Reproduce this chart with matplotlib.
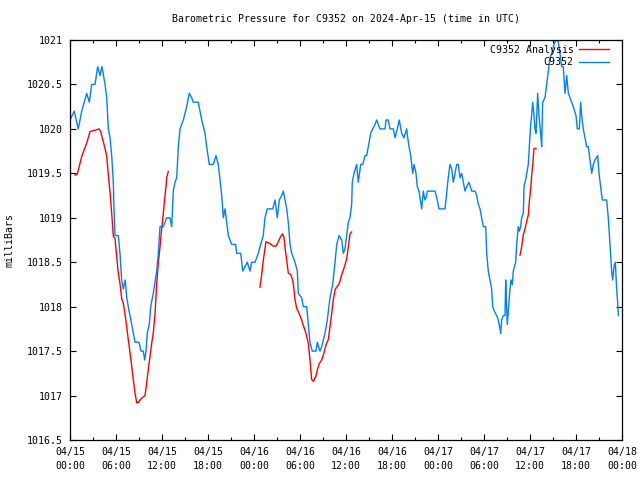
import numpy as np
import matplotlib
matplotlib.use("Agg")
import matplotlib.pyplot as plt
from matplotlib.ticker import MultipleLocator

# ---- data (hours since 2024-04-15 00:00 UTC, pressure in mb) ----
obs_hours = [0.0, 0.56, 1.08, 1.53, 2.18, 2.52, 2.83, 3.26, 3.61, 3.91, 4.17, 4.57, 4.79, 5.0, 5.22,
             5.44, 5.65, 5.74, 5.87, 6.3, 6.52, 6.74, 6.95, 7.21, 7.4, 7.6, 7.83, 8.05, 8.48, 9.0,
             9.26, 9.56, 9.74, 9.91, 10.08, 10.34, 10.53, 10.86, 11.31, 11.52, 11.74, 12.17, 12.61,
             13.04, 13.26, 13.47, 13.7, 13.92, 14.13, 14.35, 14.78, 15.22, 15.56, 15.87, 16.08,
             16.73, 17.18, 17.61, 17.83, 18.17, 18.69, 19.04, 19.34, 19.79, 20.0, 20.22, 20.65,
             21.09, 21.61, 21.74, 22.27, 22.53, 22.83, 23.13, 23.48, 23.7, 24.13, 24.56, 24.87,
             25.21, 25.43, 25.73, 26.44, 26.74, 27.04, 27.3, 27.61, 27.82, 28.04, 28.27, 28.47,
             28.7, 28.92, 29.35, 29.65, 29.78, 30.22, 30.43, 30.87, 31.08, 31.3, 31.6, 32.09,
             32.26, 32.61, 32.83, 33.26, 33.56, 33.91, 34.26, 34.57, 34.79, 35.09, 35.44, 35.65,
             35.87, 36.09, 36.3, 36.52, 36.74, 36.82, 37.04, 37.39, 37.6, 37.92, 38.18, 38.48,
             38.7, 38.91, 39.22, 39.48, 39.78, 40.0, 40.43, 41.09, 41.22, 41.52, 41.74, 42.17,
             42.39, 42.69, 42.95, 43.26, 43.56, 43.92, 44.05, 44.22, 44.44, 44.57, 44.7, 44.87,
             45.13, 45.3, 45.52, 45.69, 45.87, 46.08, 46.3, 46.53, 46.6, 47.61, 47.91, 48.13,
             48.91, 49.04, 49.21, 49.34, 49.56, 49.79, 50.0, 50.22, 50.44, 50.65, 50.87, 51.09,
             51.3, 51.52, 51.74, 52.04, 52.39, 52.83, 53.05, 53.26, 53.48, 53.7, 53.91, 54.22,
             54.35, 54.56, 54.78, 55.0, 55.13, 55.34, 55.65, 55.86, 56.09, 56.17, 56.3, 56.52,
             56.74, 56.83, 56.9, 57.04, 57.26, 57.39, 57.52, 57.69, 57.82, 58.13, 58.26, 58.47,
             58.6, 58.78, 58.91, 59.13, 59.22, 59.48, 59.78, 59.91, 60.09, 60.22, 60.35, 60.52,
             60.65, 60.78, 61.0, 61.17, 61.39, 61.52, 61.65, 61.96, 62.18, 62.39, 62.61, 62.83,
             63.13, 63.39, 63.69, 63.91, 64.13, 64.34, 64.57, 64.79, 65.0, 65.22, 65.44, 65.65,
             66.0, 66.17, 66.43, 66.61, 66.74, 66.95, 67.17, 67.39, 67.6, 67.83, 68.05, 68.26,
             68.48, 68.83, 69.0, 69.22, 69.43, 70.0, 70.21, 70.43, 70.65, 70.78, 70.96, 71.13,
             71.3, 71.43, 71.52]
obs_mb = [1020.1, 1020.2, 1020.0, 1020.2, 1020.4, 1020.3, 1020.5, 1020.5, 1020.7, 1020.6, 1020.7,
          1020.5, 1020.35, 1020.0, 1019.9, 1019.7, 1019.4, 1019.1, 1018.8, 1018.8, 1018.6, 1018.3,
          1018.2, 1018.3, 1018.1, 1018.0, 1017.9, 1017.8, 1017.6, 1017.6, 1017.5, 1017.5, 1017.4,
          1017.5, 1017.7, 1017.8, 1018.0, 1018.15, 1018.4, 1018.6, 1018.9, 1018.9, 1019.0, 1019.0,
          1018.9, 1019.3, 1019.4, 1019.45, 1019.8, 1020.0, 1020.1, 1020.25, 1020.4, 1020.35,
          1020.3, 1020.3, 1020.1, 1019.95, 1019.8, 1019.6, 1019.6, 1019.7, 1019.6, 1019.25,
          1019.0, 1019.1, 1018.8, 1018.7, 1018.7, 1018.6, 1018.6, 1018.4, 1018.45, 1018.5,
          1018.4, 1018.5, 1018.5, 1018.6, 1018.7, 1018.8, 1019.0, 1019.1, 1019.1, 1019.2,
          1019.0, 1019.2, 1019.25, 1019.3, 1019.2, 1019.1, 1018.95, 1018.7, 1018.6, 1018.5,
          1018.4, 1018.15, 1018.1, 1018.0, 1018.0, 1017.8, 1017.6, 1017.5, 1017.5, 1017.6,
          1017.5, 1017.55, 1017.7, 1017.85, 1018.1, 1018.25, 1018.5, 1018.7, 1018.8, 1018.75,
          1018.6, 1018.65, 1018.8, 1018.95, 1019.0, 1019.15, 1019.4, 1019.5, 1019.6, 1019.4,
          1019.6, 1019.6, 1019.7, 1019.7, 1019.8, 1019.95, 1020.0, 1020.05, 1020.1, 1020.0,
          1020.0, 1020.1, 1020.1, 1020.0, 1020.0, 1019.9, 1020.0, 1020.1, 1019.95, 1019.9,
          1020.0, 1019.9, 1019.8, 1019.7, 1019.6, 1019.5, 1019.6, 1019.5, 1019.35, 1019.3,
          1019.2, 1019.1, 1019.3, 1019.2, 1019.25, 1019.3, 1019.3, 1019.2, 1019.1, 1019.1,
          1019.2, 1019.35, 1019.45, 1019.6, 1019.55, 1019.4, 1019.5, 1019.6, 1019.6, 1019.45,
          1019.5, 1019.4, 1019.3, 1019.35, 1019.4, 1019.3, 1019.3, 1019.25, 1019.15, 1019.1,
          1019.0, 1018.9, 1018.9, 1018.6, 1018.4, 1018.3, 1018.2, 1018.0, 1017.95, 1017.9,
          1017.85, 1017.75, 1017.7, 1017.85, 1017.9, 1017.9, 1018.3, 1018.1, 1017.8, 1018.05,
          1018.2, 1018.3, 1018.25, 1018.4, 1018.5, 1018.7, 1018.9, 1018.85, 1018.9, 1019.0,
          1019.05, 1019.35, 1019.45, 1019.6, 1019.8, 1020.05, 1020.15, 1020.3, 1020.15, 1020.0,
          1019.95, 1020.4, 1020.15, 1019.95, 1019.8, 1020.3, 1020.35, 1020.5, 1020.65, 1020.8,
          1020.85, 1020.95, 1021.0, 1020.98, 1020.85, 1020.7, 1020.7, 1020.4, 1020.6, 1020.4,
          1020.35, 1020.3, 1020.25, 1020.15, 1020.0, 1020.0, 1020.3, 1020.15, 1020.0, 1019.9,
          1019.8, 1019.8, 1019.65, 1019.5, 1019.6, 1019.65, 1019.7, 1019.5, 1019.35, 1019.2,
          1019.2, 1019.0, 1018.7, 1018.4, 1018.3, 1018.45, 1018.5, 1018.2, 1018.05, 1017.9]

ana_hours = [0.65, 0.95, 1.21, 1.53, 1.83, 2.18, 2.61, 3.04, 3.48, 3.78, 4.0, 4.27, 4.57, 4.79, 5.0,
             5.22, 5.44, 5.65, 5.87, 6.09, 6.3, 6.52, 6.74, 6.95, 7.17, 7.4, 7.6, 7.83, 8.05, 8.26,
             8.48, 8.7, 8.91, 9.13, 9.48, 9.78, 10.0, 10.21, 10.43, 10.66, 10.86, 11.09, 11.31,
             11.52, 11.74, 11.96, 12.17, 12.39, 12.52, 12.61, 12.82,
             np.nan,
             24.78, 25.0, 25.21, 25.56, 26.09, 26.52, 26.87, 27.17, 27.48, 27.74, 27.91, 28.04,
             28.27, 28.47, 28.79, 29.05, 29.22, 29.35, 29.57, 29.91, 30.22, 30.43, 30.78, 31.08,
             31.3, 31.52, 31.74, 32.09, 32.26, 32.52, 32.83, 33.13, 33.39, 33.69, 33.91, 34.13,
             34.35, 34.57, 34.79, 35.13, 35.44, 35.65, 35.87, 36.09, 36.3, 36.52, 36.74,
             np.nan,
             58.7, 58.91, 59.13, 59.35, 59.57, 59.78, 59.91, 60.09, 60.22, 60.35, 60.52, 60.78]
ana_mb = [1019.48, 1019.49, 1019.58, 1019.69, 1019.76, 1019.84, 1019.97, 1019.98, 1019.99, 1020.0,
          1019.97, 1019.88, 1019.78, 1019.69, 1019.48, 1019.29, 1019.05, 1018.79, 1018.77, 1018.56,
          1018.38, 1018.26, 1018.09, 1018.04, 1017.92, 1017.77, 1017.63, 1017.48, 1017.33, 1017.18,
          1017.03, 1016.92, 1016.92, 1016.95, 1016.98, 1017.0, 1017.14, 1017.29, 1017.44, 1017.59,
          1017.7, 1017.92, 1018.26, 1018.49, 1018.67, 1018.88, 1019.05, 1019.25, 1019.35, 1019.45,
          1019.52,
          np.nan,
          1018.22, 1018.36, 1018.52, 1018.73, 1018.71, 1018.68, 1018.68, 1018.73, 1018.79, 1018.82,
          1018.78, 1018.67, 1018.52, 1018.38, 1018.36, 1018.3, 1018.19, 1018.08, 1017.98, 1017.92,
          1017.85, 1017.79, 1017.7, 1017.59, 1017.4, 1017.18, 1017.16, 1017.22, 1017.29, 1017.36,
          1017.4, 1017.48, 1017.57, 1017.63, 1017.77, 1017.92, 1018.08, 1018.19, 1018.22, 1018.26,
          1018.36, 1018.41, 1018.47, 1018.54, 1018.67, 1018.82, 1018.84,
          np.nan,
          1018.58, 1018.67, 1018.81, 1018.88, 1018.96, 1019.03, 1019.18, 1019.33, 1019.48, 1019.59,
          1019.78, 1019.78]

x_tick_hours = [0, 6, 12, 18, 24, 30, 36, 42, 48, 54, 60, 66, 72]
x_tick_labels = ["04/15\n00:00", "04/15\n06:00", "04/15\n12:00", "04/15\n18:00",
                 "04/16\n00:00", "04/16\n06:00", "04/16\n12:00", "04/16\n18:00",
                 "04/17\n00:00", "04/17\n06:00", "04/17\n12:00", "04/17\n18:00",
                 "04/18\n00:00"]
y_ticks = [1016.5, 1017, 1017.5, 1018, 1018.5, 1019, 1019.5, 1020, 1020.5, 1021]
y_tick_labels = ["1016.5", "1017", "1017.5", "1018", "1018.5", "1019", "1019.5", "1020", "1020.5", "1021"]

FONT = "DejaVu Sans Mono"
FS = 7.1
plt.rcParams['font.family'] = [FONT]

fig = plt.figure(figsize=(6.4, 4.8), dpi=100)
ax = fig.add_axes([70 / 640, 1 - 440 / 480, 552 / 640, 400 / 480])

ax.plot(ana_hours, ana_mb, color='#ff0000', lw=1.0, label='C9352 Analysis')
ax.plot(obs_hours, obs_mb, color='#0080ff', lw=1.0, label='C9352')

ax.set_xlim(0, 72)
ax.set_ylim(1016.5, 1021)
ax.set_xticks(x_tick_hours)
ax.set_xticklabels(x_tick_labels, fontsize=FS, linespacing=1.45)
ax.xaxis.set_minor_locator(MultipleLocator(3))
ax.set_yticks(y_ticks)
ax.set_yticklabels(y_tick_labels, fontsize=FS)
ax.tick_params(axis='both', which='major', direction='in', length=4, width=0.8,
               top=True, right=True, pad=5)
ax.tick_params(axis='x', which='minor', direction='in', length=2.5, width=0.8, top=True)
for s in ax.spines.values():
    s.set_linewidth(0.9)

ax.set_ylabel('milliBars', fontsize=FS)
ax.yaxis.set_label_coords(-55 / 552, 0.5)
fig.text(346 / 640, 1 - 19 / 480, 'Barometric Pressure for C9352 on 2024-Apr-15 (time in UTC)',
         ha='center', va='center', fontsize=FS)

leg = ax.legend(loc='upper right', bbox_to_anchor=(1 - 8 / 552, 1),
                markerfirst=False, frameon=False, fontsize=FS,
                handlelength=3.0, handletextpad=0.6, labelspacing=0.25,
                borderaxespad=0.3, borderpad=0.2)

fig.savefig('out.png', dpi=100)
